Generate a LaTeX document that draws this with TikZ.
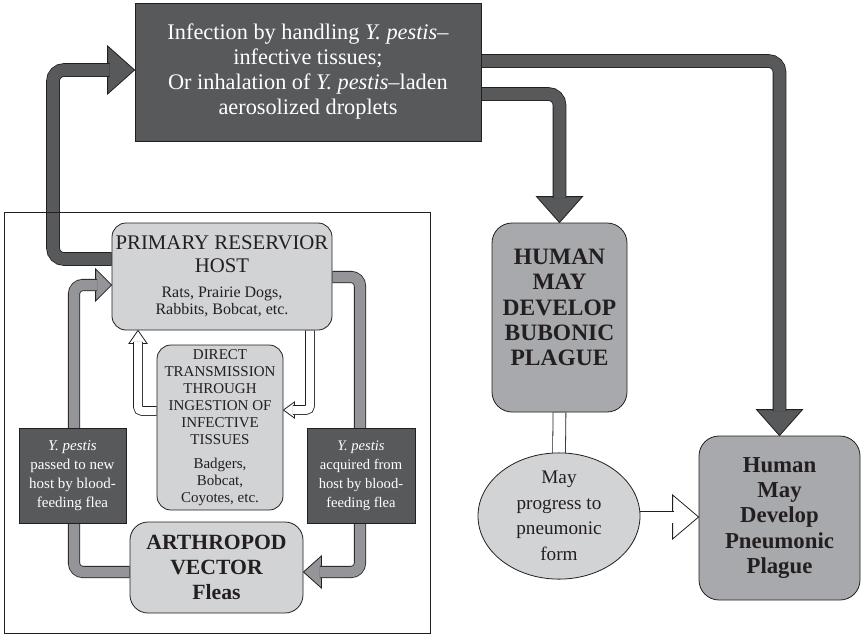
\documentclass[tikz,border=0pt]{standalone}
\usepackage{fontspec}
\setmainfont{Liberation Serif}
\usetikzlibrary{calc,backgrounds,shapes.geometric}
\definecolor{darkfill}{HTML}{58595B}
\definecolor{midfill}{HTML}{A7A9AC}
\definecolor{arrowgray}{HTML}{939598}
\definecolor{lightfill}{HTML}{D1D3D4}
\definecolor{ink}{HTML}{231F20}

% arrow head: style, tip point, rotation, length, half width
\newcommand{\arrowtip}[5]{%
  \path[#1, shift={(#2)}, rotate=#3] (0,0) -- (-#4,#5) -- (-#4,-#5) -- cycle;}

\begin{document}
\begin{tikzpicture}[x=1pt, y=-1pt,
  every node/.style={inner sep=0pt, align=center, text=ink},
  darkbox/.style={draw=ink, line width=0.8pt, fill=darkfill, text=white},
  lightbox/.style={draw=ink, line width=0.8pt, fill=lightfill, rounded corners=14pt},
  midbox/.style={draw=ink, line width=0.8pt, fill=midfill, rounded corners=20pt},
  darkshaft/.style={draw=ink, line width=0.8pt, double=darkfill, double distance=12pt, rounded corners=11pt},
  grayshaft/.style={draw=ink, line width=0.8pt, double=arrowgray, double distance=10.5pt, rounded corners=9pt},
  hollowshaft/.style={draw=ink, line width=0.8pt, double=white, double distance=8pt, rounded corners=4pt},
  darkhead/.style={draw=ink, line width=0.8pt, fill=darkfill},
  grayhead/.style={draw=ink, line width=0.8pt, fill=arrowgray},
  hollowhead/.style={draw=ink, line width=0.8pt, fill=white},
]
\useasboundingbox (0,0) rectangle (862,635);

% ---- boxes ----
\node[darkbox, minimum width=346pt, minimum height=138pt,
      font=\fontsize{22.3}{25}\selectfont] (top) at (308,72)
  {Infection by handling \textit{Y. pestis}–\\infective tissues;\\
   Or inhalation of \textit{Y. pestis}–laden\\aerosolized droplets};

\draw[ink, line width=0.8pt] (4,212) rectangle (430,633);

\node[lightbox, minimum width=220pt, minimum height=107pt,
      font=\fontsize{16}{17}\selectfont] (host) at (222,276.5)
  {{\fontsize{20.8}{17}\selectfont PRIMARY RESERVIOR}\\[6pt]
   {\fontsize{20.8}{17}\selectfont HOST}\\[8pt]
   Rats, Prairie Dogs,\\Rabbits, Bobcat, etc.};

\node[lightbox, minimum width=126pt, minimum height=165pt,
      font=\fontsize{15}{17}\selectfont] (direct) at (220,427.5)
  {DIRECT\\TRANSMISSION\\THROUGH\\INGESTION OF\\INFECTIVE\\TISSUES\\[7pt]
   Badgers,\\Bobcat,\\Coyotes, etc.};

\node[lightbox, rounded corners=18pt, minimum width=173pt, minimum height=91pt,
      font=\fontsize{21.7}{25}\selectfont\bfseries] (arth) at (216.5,567.5)
  {ARTHROPOD\\VECTOR\\Fleas};

\node[darkbox, minimum width=107pt, minimum height=95pt,
      font=\fontsize{15}{19}\selectfont] (passbox) at (72.5,475.5)
  {\textit{Y. pestis}\\passed to new\\host by blood-\\feeding flea};

\node[darkbox, minimum width=108pt, minimum height=95pt,
      font=\fontsize{14.6}{19}\selectfont] (acqbox) at (361,475.5)
  {\textit{Y. pestis}\\acquired from\\host by blood-\\feeding flea};

\node[midbox, minimum width=135pt, minimum height=189pt] (bub) at (559.5,317.5) {};
\node[font=\fontsize{23.5}{25.3}\selectfont\bfseries] (bubtext) at ($(bub.center)+(0,-10)$)
  {HUMAN\\MAY\\DEVELOP\\BUBONIC\\PLAGUE};

\node[midbox, minimum width=161pt, minimum height=164pt,
      font=\fontsize{22.8}{25.2}\selectfont\bfseries] (pneu) at (779.5,518)
  {Human\\May\\Develop\\Pneumonic\\Plague};

\node[ellipse, draw=ink, line width=0.8pt, fill=lightfill, inner sep=0pt,
      minimum width=162pt, minimum height=126pt,
      font=\fontsize{19.2}{25.5}\selectfont] (prog) at (559,516)
  {May\\progress to\\pneumonic\\form};

% ---- connectors ----
\begin{pgfonlayer}{background}
  % dark arrows out of and into the infection box
  \arrowtip{darkhead}{top.west |- 0,70}{0}{27}{24}
  \draw[darkshaft] (host.west |- 0,259) -- (53,259) -- (53,70) -- (109.5,70);

  \arrowtip{darkhead}{bub.north}{-90}{26}{23}
  \draw[darkshaft] (top.east |- 0,94) -- (bub.north |- 0,94) -- ($(bub.north)+(0,-24.5)$);

  \arrowtip{darkhead}{pneu.north}{-90}{26}{23}
  \draw[darkshaft] (top.east |- 0,61) -- (pneu.north |- 0,61) -- ($(pneu.north)+(0,-24.5)$);

  % flea cycle
  \arrowtip{grayhead}{host.west |- 0,285}{0}{16}{16}
  \draw[grayshaft] (arth.west |- 0,572) -- (74,572) -- (74,285) -- ($(host.west |- 0,285)+(-14.5,0)$);

  \arrowtip{grayhead}{arth.east |- 0,572}{180}{18}{16}
  \draw[grayshaft] (host.east |- 0,277) -- (360,277) -- (360,572) -- ($(arth.east |- 0,572)+(16.5,0)$);

  % direct transmission loop
  \arrowtip{hollowhead}{138,0 |- host.south}{90}{13}{9}
  \draw[hollowshaft] (direct.west |- 0,411) -- (138,411) -- ($(138,0 |- host.south)+(0,11.5)$);

  \arrowtip{hollowhead}{direct.east |- 0,410}{180}{11}{8}
  \draw[hollowshaft] (310,0 |- host.south) -- (310,410) -- ($(direct.east |- 0,410)+(9.5,0)$);

  % bubonic to pneumonic progression
  \draw[hollowshaft, double distance=12pt] (bub.south) -- ($(prog.north)+(0,6)$);
  \arrowtip{hollowhead}{pneu.west |- 0,517}{0}{26}{22}
  \draw[hollowshaft, double distance=11pt, rounded corners=0pt]
    ($(prog.east)+(-6,1)$) -- ($(pneu.west |- 0,517)+(-24.5,0)$);
\end{pgfonlayer}
\end{tikzpicture}
\end{document}
